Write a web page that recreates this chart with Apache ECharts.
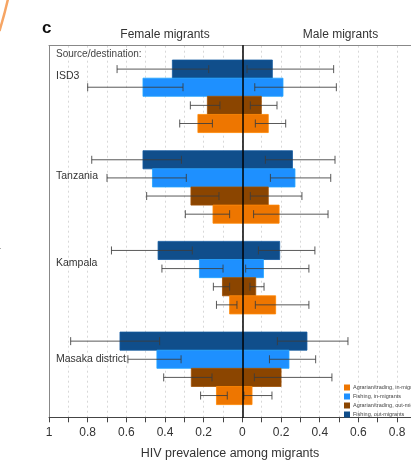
<!DOCTYPE html>
<html>
<head>
<meta charset="utf-8">
<script src="https://cdn.jsdelivr.net/npm/echarts@6/dist/echarts.min.js"></script>
<style>html,body{margin:0;padding:0;background:#fff;}#c{width:411px;height:461px;}</style>
</head>
<body>
<div id="c"></div>
<script>
// Groups (top to bottom)
const groups = ['ISD3', 'Tanzania', 'Kampala', 'Masaka district'];
// Bar order within each group, top to bottom
const typeNames = ['Fishing, out-migrants', 'Fishing, in-migrants', 'Agrarian/trading, out-migrants', 'Agrarian/trading, in-migrants'];
const legendOrder = ['Agrarian/trading, in-migrants', 'Fishing, in-migrants', 'Agrarian/trading, out-migrants', 'Fishing, out-migrants'];
const typeColors = ['#104E8B', '#1E90FF', '#8B4500', '#EE7600'];

// HIV prevalence, female (left) and male (right), per group
const fishOutFemale = [0.362, 0.514, 0.436, 0.633];
const fishOutFemaleLo = [0.174, 0.315, 0.259, 0.428];
const fishOutFemaleHi = [0.648, 0.779, 0.677, 0.888];
const fishOutMale = [0.155, 0.259, 0.193, 0.334];
const fishOutMaleLo = [0.024, 0.119, 0.083, 0.181];
const fishOutMaleHi = [0.472, 0.479, 0.375, 0.546];

const fishInFemale = [0.514, 0.465, 0.222, 0.442];
const fishInFemaleLo = [0.307, 0.290, 0.100, 0.317];
const fishInFemaleHi = [0.800, 0.700, 0.416, 0.592];
const fishInMale = [0.210, 0.272, 0.109, 0.241];
const fishInMaleLo = [0.064, 0.145, 0.017, 0.140];
const fishInMaleHi = [0.486, 0.457, 0.344, 0.379];

const agrOutFemale = [0.181, 0.266, 0.103, 0.264];
const agrOutFemaleLo = [0.116, 0.121, 0.066, 0.157];
const agrOutFemaleHi = [0.269, 0.495, 0.150, 0.407];
const agrOutMale = [0.098, 0.134, 0.069, 0.200];
const agrOutMaleLo = [0.041, 0.041, 0.039, 0.062];
const agrOutMaleHi = [0.179, 0.308, 0.112, 0.463];

const agrInFemale = [0.230, 0.152, 0.066, 0.134];
const agrInFemaleLo = [0.155, 0.066, 0.028, 0.078];
const agrInFemaleHi = [0.324, 0.295, 0.134, 0.216];
const agrInMale = [0.134, 0.190, 0.172, 0.050];
const agrInMaleLo = [0.067, 0.058, 0.067, 0.008];
const agrInMaleHi = [0.224, 0.443, 0.344, 0.153];

const xTicks = [-1, -0.8, -0.6, -0.4, -0.2, 0, 0.2, 0.4, 0.6, 0.8];
// the panel is cropped on the right: visible part of the axis ends here
const xVisibleMax = 0.872;

const typeData = [
  [fishOutFemale, fishOutFemaleLo, fishOutFemaleHi, fishOutMale, fishOutMaleLo, fishOutMaleHi],
  [fishInFemale, fishInFemaleLo, fishInFemaleHi, fishInMale, fishInMaleLo, fishInMaleHi],
  [agrOutFemale, agrOutFemaleLo, agrOutFemaleHi, agrOutMale, agrOutMaleLo, agrOutMaleHi],
  [agrInFemale, agrInFemaleLo, agrInFemaleHi, agrInMale, agrInMaleLo, agrInMaleHi]
];

const chart = echarts.init(document.getElementById('c'), null, {renderer: 'canvas'});
const FONT = 'Liberation Sans, Arial, sans-serif';

function makeSeries(t) {
  const arrs = typeData[t];
  const data = groups.map((g, gi) => [gi * 5 + t, -arrs[0][gi], -arrs[1][gi], -arrs[2][gi], arrs[3][gi], arrs[4][gi], arrs[5][gi]]);
  return {
    type: 'custom',
    name: typeNames[t],
    color: typeColors[t],
    itemStyle: {color: typeColors[t]},
    data: data,
    encode: {y: 0, x: [1, 3, 4, 6]},
    clip: false,
    renderItem: function (params, api) {
      const slot = api.value(0);
      const top = api.coord([0, slot])[1];
      const bot = api.coord([0, slot + 1])[1];
      const mid = (top + bot) / 2;
      const children = [];
      const fill = typeColors[t];
      [1, 4].forEach(function (i) {
        const v = api.value(i);
        const x0 = api.coord([0, slot])[0];
        const x1 = api.coord([v, slot])[0];
        children.push({
          type: 'rect',
          shape: {x: Math.min(x0, x1), y: top, width: Math.abs(x1 - x0), height: bot - top},
          style: {fill: fill, stroke: echarts.color.lift(fill, -0.15), lineWidth: 0.8}
        });
      });
      [[2, 3], [5, 6]].forEach(function (idx) {
        const lo = api.coord([api.value(idx[0]), slot])[0];
        const hi = api.coord([api.value(idx[1]), slot])[0];
        const es = {stroke: 'rgba(60,60,60,0.85)', lineWidth: 1};
        children.push({type: 'line', shape: {x1: lo, y1: mid, x2: hi, y2: mid}, style: es});
        children.push({type: 'line', shape: {x1: lo, y1: mid - 4, x2: lo, y2: mid + 4}, style: es});
        children.push({type: 'line', shape: {x1: hi, y1: mid - 4, x2: hi, y2: mid + 4}, style: es});
      });
      return {type: 'group', children: children};
    }
  };
}

const labelY = [76, 176, 263.3, 359.3];

const option = {
  animation: false,
  backgroundColor: '#fff',
  grid: {left: 49, right: 0, top: 45.7, bottom: 43.7, show: false, containLabel: false, outerBoundsMode: 'none'},
  xAxis: [{
    type: 'value', min: -1, max: xVisibleMax, interval: 0.1,
    axisLine: {show: true, onZero: false, lineStyle: {color: '#444', width: 1}},
    axisTick: {show: true, inside: false, length: 5, lineStyle: {color: '#444'}},
    axisLabel: {
      color: '#333', fontFamily: FONT, fontSize: 12, margin: 9, showMaxLabel: false,
      formatter: function (v) {
        for (let i = 0; i < xTicks.length; i++) { if (Math.abs(xTicks[i] - v) < 1e-6) return String(Math.abs(xTicks[i])); }
        return '';
      }
    },
    splitLine: {show: true, lineStyle: {color: '#d8d8d8', type: [2, 3], width: 1}},
    name: 'HIV prevalence among migrants', nameLocation: 'middle', nameGap: 30,
    nameTextStyle: {color: '#333', fontSize: 12.5, fontFamily: FONT}
  }, {
    type: 'value', position: 'top', min: -1, max: xVisibleMax,
    axisLine: {show: true, onZero: false, lineStyle: {color: '#888', width: 1}},
    axisTick: {show: false}, axisLabel: {show: false}, splitLine: {show: false}
  }],
  yAxis: [{
    type: 'value', inverse: true, min: -0.79, max: 19.70,
    z: 10,
    axisLine: {show: true, onZero: true, lineStyle: {color: '#000', width: 1.5}},
    axisTick: {show: false}, axisLabel: {show: false}, splitLine: {show: false}
  }, {
    type: 'value', position: 'left', inverse: true, min: -0.79, max: 19.70,
    axisLine: {show: true, onZero: false, lineStyle: {color: '#888', width: 1}},
    axisTick: {show: false}, axisLabel: {show: false}, splitLine: {show: false}
  }],
  legend: {
    data: legendOrder,
    orient: 'vertical', left: 339, top: 379.5,
    itemWidth: 6, itemHeight: 6, itemGap: 3,
    icon: 'rect',
    textStyle: {fontSize: 5.5, color: '#444', fontFamily: FONT, padding: [0, 0, 0, -2]}
  },
  series: [makeSeries(0), makeSeries(1), makeSeries(2), makeSeries(3)],
  graphic: [
    {type: 'text', left: 42, top: 20, style: {text: 'c', fontSize: 17, fontWeight: 'bold', fill: '#111', fontFamily: FONT}},
    {type: 'text', x: 165, y: 34.5, style: {text: 'Female migrants', fontSize: 12, fill: '#333', align: 'center', verticalAlign: 'middle', fontFamily: FONT}},
    {type: 'text', x: 340.5, y: 34.5, style: {text: 'Male migrants', fontSize: 12, fill: '#333', align: 'center', verticalAlign: 'middle', fontFamily: FONT}},
    {type: 'text', x: 56, y: 54.5, style: {text: 'Source/destination:', fontSize: 10, fill: '#444', verticalAlign: 'middle', fontFamily: FONT}, z: 20}
  ].concat(groups.map(function (g, i) {
    return {type: 'text', x: 56, y: labelY[i], z: 20, style: {text: g, fontSize: 10.5, fill: '#333', verticalAlign: 'middle', fontFamily: FONT}};
  })).concat([
    {type: 'bezierCurve', shape: {x1: 8, y1: -1, x2: -0.5, y2: 31, cpx1: 5.5, cpy1: 10, cpx2: 2.5, cpy2: 21}, style: {stroke: '#f6a564', lineWidth: 2.5, fill: null}},
    {type: 'text', x: -3, y: 251, style: {text: 'r', fontSize: 11, fill: '#222', verticalAlign: 'middle', fontFamily: FONT}}
  ])
};
chart.setOption(option);
</script>
</body>
</html>
